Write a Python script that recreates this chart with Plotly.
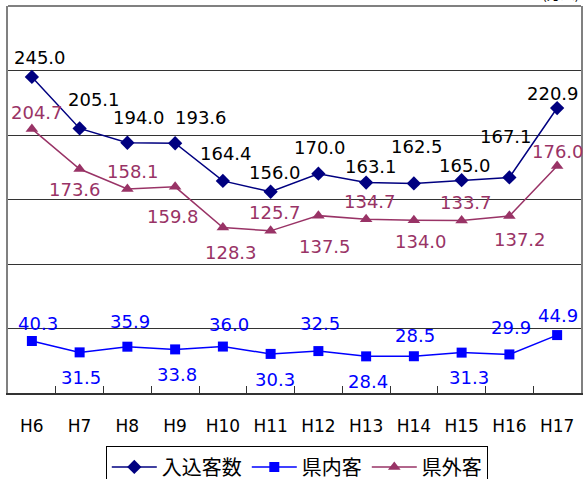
import plotly.graph_objects as go

# 年度
years = ['H6', 'H7', 'H8', 'H9', 'H10', 'H11', 'H12', 'H13', 'H14', 'H15', 'H16', 'H17']
# 入込客数 / 県内客 / 県外客 (万人)
total = [245.0, 205.1, 194.0, 193.6, 164.4, 156.0, 170.0, 163.1, 162.5, 165.0, 167.1, 220.9]
kennai = [40.3, 31.5, 35.9, 33.8, 36.0, 30.3, 32.5, 28.4, 28.5, 31.3, 29.9, 44.9]
kengai = [204.7, 173.6, 158.1, 159.8, 128.3, 125.7, 137.5, 134.7, 134.0, 133.7, 137.2, 176.0]

# ラベルのずれ (px) dx, dy  (dy は下向きが正)
total_off = [(8, -19), (14, -29), (12, -25), (26, -26), (3, -27), (4, -19),
             (2, -26), (5, -16), (3, -37), (3, -15), (-3, -41), (-4, -15)]
kennai_off = [(6, -18), (1, 25), (3, -25), (2, 25), (6, -22), (4, 26),
              (2, -28), (2, 25), (1, -21), (7, 25), (2, -27), (1, -20)]
kengai_off = [(5, -16), (-5, 20), (6, -18), (-2, 30), (8, 25), (4, -18),
              (7, 31), (4, -18), (7, 21), (4, -18), (11, 23), (1, -14)]

NAVY = '#000080'
BLUE = '#0000FF'
PLUM = '#993366'
NUMFONT = 'DejaVu Sans'

fig = go.Figure()
fig.add_trace(go.Scatter(x=years, y=total, name='入込客数', mode='lines+markers',
                         line=dict(color=NAVY, width=1.5),
                         marker=dict(symbol='diamond', size=11, color=NAVY)))
fig.add_trace(go.Scatter(x=years, y=kennai, name='県内客', mode='lines+markers',
                         line=dict(color=BLUE, width=1.5),
                         marker=dict(symbol='square', size=10, color=BLUE)))
fig.add_trace(go.Scatter(x=years, y=kengai, name='県外客', mode='lines+markers',
                         line=dict(color=PLUM, width=1.5),
                         marker=dict(symbol='triangle-up', size=11, color=PLUM)))

# データラベル
for vals, offs, col in [(total, total_off, 'black'), (kennai, kennai_off, BLUE), (kengai, kengai_off, PLUM)]:
    for yr, v, (dx, dy) in zip(years, vals, offs):
        fig.add_annotation(x=yr, y=v, text=f'{v:.1f}', showarrow=False,
                           xshift=dx, yshift=-dy,
                           font=dict(family=NUMFONT, size=18, color=col))

# 単位 (上端で切れている)
fig.add_annotation(x=1, y=1, xref='paper', yref='paper', xanchor='right', yanchor='bottom',
                   yshift=1, text='(万人)', showarrow=False,
                   font=dict(family='Noto Sans CJK JP', size=14, color='black'))

# 上の枠線
fig.add_shape(type='line', xref='paper', yref='paper', x0=0, x1=1, y0=1, y1=1,
              line=dict(color='#808080', width=2))

fig.update_xaxes(type='category', range=[-0.5, 11.5], showgrid=False, automargin=False,
                 showline=True, linecolor='#333333', linewidth=2,
                 ticks='inside', tickson='boundaries', ticklen=7, tickcolor='#333333',
                 ticklabelstandoff=17,
                 tickfont=dict(family=NUMFONT, size=17, color='black'))
fig.update_yaxes(range=[0, 300], dtick=50, showticklabels=False, ticks='', automargin=False,
                 showgrid=True, gridcolor='#333333', gridwidth=1,
                 showline=True, mirror=True, linecolor='#808080', linewidth=2,
                 zeroline=False)

fig.update_layout(width=583, height=479,
                  margin=dict(l=8, r=2, t=6, b=86),
                  paper_bgcolor='white', plot_bgcolor='white',
                  showlegend=True,
                  legend=dict(orientation='h', x=0.504, xanchor='center',
                              yref='container', y=0.068, yanchor='top',
                              bordercolor='black', borderwidth=1, bgcolor='white',
                              itemwidth=45,
                              font=dict(family='Noto Sans CJK JP', size=20, color='black')))

fig.write_html("out.html", config={'displayModeBar': False},
               post_script="document.body.style.margin='0';")
